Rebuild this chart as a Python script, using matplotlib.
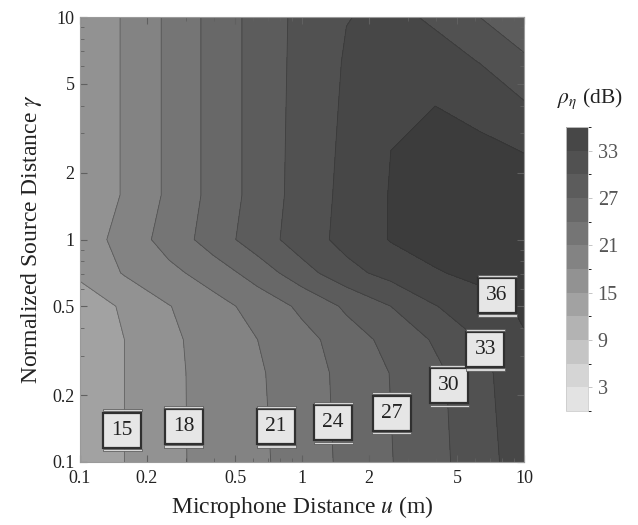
#!/usr/bin/env python3
"""Filled contour map of the noise-reduction ratio over microphone and source distance."""
import numpy as np
import matplotlib
matplotlib.use("Agg")
import matplotlib.pyplot as plt
import matplotlib.ticker as mticker
from matplotlib.colors import ListedColormap, BoundaryNorm
from matplotlib.cm import ScalarMappable
from matplotlib.patches import Rectangle
from matplotlib.transforms import ScaledTranslation

# ──────────────────────────────────────────────────────────────────────────────
# grid nodes, as powers of ten
U_EXP = [-1.0, -0.8, -0.6, -0.4, -0.2, 0.0, 0.2, 0.4, 0.6, 0.8, 1.0]
GAMMA_EXP = [-1.0, -0.6, -0.45, -0.3, -0.15, 0.0, 0.2, 0.4, 0.6, 0.8, 1.0]

# rho_eta in dB, one row per gamma node (bottom → top), one column per u node
RHO_DB = [
    [12.6, 15.0, 17.4, 19.1, 20.5, 22.5, 24.8, 26.9, 29.2, 31.9, 34.7],
    [12.7, 15.0, 17.4, 19.2, 20.7, 22.7, 25.0, 27.1, 29.4, 32.3, 35.0],
    [13.0, 15.0, 17.5, 19.3, 21.0, 23.1, 25.6, 28.1, 30.4, 33.1, 35.8],
    [14.0, 15.3, 17.9, 20.0, 22.2, 24.7, 27.6, 30.0, 32.9, 34.9, 36.5],
    [15.4, 18.3, 20.3, 22.5, 25.5, 29.0, 32.1, 34.2, 35.8, 36.8, 37.0],
    [16.3, 19.4, 22.3, 25.6, 28.7, 31.6, 34.1, 36.2, 37.2, 37.3, 37.0],
    [15.8, 18.3, 21.7, 25.1, 28.3, 31.4, 33.9, 36.2, 37.3, 37.5, 37.2],
    [15.8, 18.3, 21.7, 25.1, 28.3, 31.3, 33.7, 36.0, 36.8, 36.6, 35.9],
    [15.8, 18.3, 21.7, 25.1, 28.3, 31.2, 33.5, 35.2, 36.0, 35.0, 33.3],
    [15.8, 18.3, 21.7, 25.1, 28.3, 31.1, 33.3, 34.6, 34.2, 32.9, 30.3],
    [15.8, 18.3, 21.7, 25.1, 28.3, 31.0, 32.9, 33.8, 32.4, 30.0, 28.5],
]

LEVELS = [0, 3, 6, 9, 12, 15, 18, 21, 24, 27, 30, 33, 36, 39]
CBAR_TICKS = [3, 9, 15, 21, 27, 33]

# inline contour labels
LABEL_LEVELS = [15, 18, 21, 24, 27, 30, 33, 36]
LABEL_U = [0.155, 0.294, 0.764, 1.38, 2.54, 4.6, 6.7, 7.56]
LABEL_GAMMA = [0.139, 0.144, 0.144, 0.15, 0.166, 0.22, 0.32, 0.56]

# one grey per 3 dB band, light → dark
BAND_GREYS = ["#e3e3e3", "#d5d5d5", "#c5c5c5", "#b3b3b3", "#a2a2a2", "#929292",
              "#838383", "#757575", "#686868", "#5c5c5c", "#515151", "#474747",
              "#3c3c3c"]

plt.rcParams["font.family"] = ["Liberation Serif", "DejaVu Serif"]
plt.rcParams["mathtext.fontset"] = "stix"


# ──────────────────────────────────────────────────────────────────────────────
def boxed_label(fig, ax, u, g, text):
    """Framed level tag with the thin light bars above and below it."""
    tr = fig.dpi_scale_trans + ScaledTranslation(u, g, ax.transData)
    w, h = 0.38, 0.35
    ax.add_patch(Rectangle((-w / 2, -h / 2), w, h, transform=tr, clip_on=False,
                           fc="#e6e6e6", ec="#303030", lw=1.6, zorder=5))
    for y0 in (h / 2 + 0.012, -h / 2 - 0.035):
        ax.add_patch(Rectangle((-w / 2 - 0.005, y0), w + 0.01, 0.023, transform=tr,
                               clip_on=False, fc="#d6d6d6", ec="#505050", lw=0.5,
                               zorder=5))
    ax.text(u, g, text, ha="center", va="center", fontsize=15.5, color="#222222",
            zorder=6)


def main() -> None:
    u = 10.0 ** np.array(U_EXP)
    g = 10.0 ** np.array(GAMMA_EXP)
    z = np.array(RHO_DB)

    fig = plt.figure(figsize=(6.38, 5.25), dpi=100)
    ax = fig.add_axes([0.1254, 0.12, 0.6959, 0.8476])

    cmap = ListedColormap(BAND_GREYS)
    norm = BoundaryNorm(LEVELS, cmap.N)
    ax.contourf(u, g, z, levels=LEVELS, cmap=cmap, norm=norm)
    ax.contour(u, g, z, levels=LEVELS[1:-1], colors="#2a2a2a", linewidths=0.6,
               alpha=0.45)

    ax.set_xscale("log")
    ax.set_yscale("log")
    ax.set_xlim(0.1, 10)
    ax.set_ylim(0.1, 10)

    major = [0.1, 0.2, 0.5, 1, 2, 5, 10]
    fmt = mticker.FuncFormatter(lambda v, _: f"{v:g}")
    for axis in (ax.xaxis, ax.yaxis):
        axis.set_major_locator(mticker.FixedLocator(major))
        axis.set_major_formatter(fmt)
        axis.set_minor_locator(mticker.LogLocator(base=10, subs=np.arange(2, 10)))
        axis.set_minor_formatter(mticker.NullFormatter())
    ax.tick_params(which="both", direction="in", top=True, right=True,
                   color="#606060", labelsize=13, labelcolor="#222222")
    ax.tick_params(axis="x", which="major", pad=6)
    ax.tick_params(axis="y", which="major", pad=4)
    ax.tick_params(which="major", length=5, width=0.8)
    ax.tick_params(which="minor", length=3, width=0.6)
    for sp in ax.spines.values():
        sp.set_color("#9a9a9a")
        sp.set_linewidth(0.8)

    ax.set_xlabel("Microphone Distance $u$ (m)", fontsize=17, color="#222222",
                  labelpad=5)
    ax.set_ylabel("Normalized Source Distance $\\gamma$", fontsize=17,
                  color="#222222", labelpad=6)

    for lev, lu, lg in zip(LABEL_LEVELS, LABEL_U, LABEL_GAMMA):
        boxed_label(fig, ax, lu, lg, str(lev))

    # colour bar only spans 0–36 dB
    cax = fig.add_axes([0.887, 0.217, 0.0345, 0.541])
    bar_cmap = ListedColormap(BAND_GREYS[:12])
    sm = ScalarMappable(norm=BoundaryNorm(LEVELS[:13], bar_cmap.N), cmap=bar_cmap)
    cb = fig.colorbar(sm, cax=cax, ticks=CBAR_TICKS)
    cb.outline.set_edgecolor("#cccccc")
    cb.outline.set_linewidth(0.6)
    cax.tick_params(length=3, width=0.6, color="#bbbbbb", labelsize=14.5,
                    labelcolor="#555555", pad=4)
    fig.text(0.925, 0.812, "$\\rho_\\eta$ (dB)", ha="center", va="center",
             fontsize=15.5, color="#222222")

    fig.savefig("out.png", dpi=100)
    plt.close(fig)


if __name__ == "__main__":
    main()
